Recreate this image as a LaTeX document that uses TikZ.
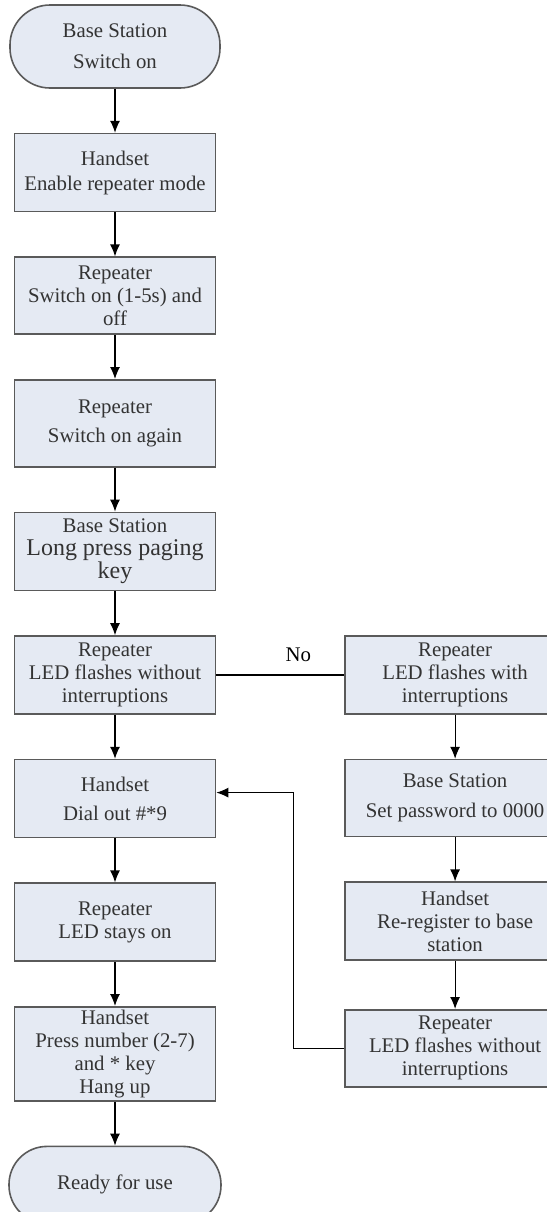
\documentclass[tikz,border=0pt]{standalone}
\usepackage{fontspec}
\setmainfont{Liberation Serif}
\usepackage{tikz}
\usetikzlibrary{arrows.meta}
\usetikzlibrary{positioning}
\definecolor{boxfill}{RGB}{229,234,243}
\definecolor{boxline}{RGB}{90,90,90}
\newcommand{\keyfont}{\fontsize{12}{13}\selectfont}

\begin{document}
\begin{tikzpicture}[
    font=\fontsize{10.4}{11.5}\selectfont,
    node distance=22pt,
    process/.style={rectangle, draw=boxline, line width=0.8pt, fill=boxfill, text=black!80,
      minimum width=100.5pt, minimum height=39pt, inner sep=1pt, align=center},
    terminal/.style={process, rounded corners=19pt, minimum width=105pt},
    side/.style={process, minimum width=110pt},
    flow/.style={-{Latex[length=6pt,width=5pt]}, line width=0.6pt}
  ]
    \useasboundingbox (0,0) rectangle (273.5pt,-606pt);

    % main column
    \node[terminal, minimum height=41.5pt, rounded corners=20pt] (start) at (57.5pt,-23.25pt) {Base Station\\[4pt]Switch on};
    \node[process, below=of start] (enable) {Handset\\[1pt]Enable repeater mode};
    \node[process, below=of enable, minimum height=38.5pt] (cycle) {Repeater\\Switch on (1-5s) and\\off};
    \node[process, below=of cycle, minimum height=43.5pt] (again) {Repeater\\[3pt]Switch on again};
    \node[process, below=of again] (paging) {Base Station\\\keyfont Long press paging\\\keyfont key};
    \node[process, below=of paging] (check) {Repeater\\LED flashes without\\interruptions};
    \node[process, below=of check] (dial) {Handset\\[3pt]Dial out \#*9};
    \node[process, below=of dial] (stays) {Repeater\\LED stays on};
    \node[process, below=of stays, minimum height=47pt] (press) {Handset\\Press number (2-7)\\and * key\\Hang up};
    \node[terminal, below=of press, minimum width=106pt, minimum height=38.5pt] (ready) {Ready for use};

    % side column
    \node[side, right=64pt of check] (flashing) {Repeater\\LED flashes with\\interruptions};
    \node[side, below=of flashing, minimum height=38.5pt] (password) {Base Station\\[3.5pt]Set password to 0000};
    \node[side, below=of password] (reregister) {Handset\\Re-register to base\\station};
    \node[side, below=24pt of reregister, minimum height=38.5pt] (steady) {Repeater\\LED flashes without\\interruptions};
    \coordinate (back) at ([xshift=38.75pt,yshift=3pt]dial.east);

    \draw[flow] (start) -- (enable);
    \draw[flow] (enable) -- (cycle);
    \draw[flow] (cycle) -- (again);
    \draw[flow] (again) -- (paging);
    \draw[flow] (paging) -- (check);
    \draw[flow] (check) -- (dial);
    \draw[flow] (dial) -- (stays);
    \draw[flow] (stays) -- (press);
    \draw[flow] (press) -- (ready);
    \draw[line width=0.9pt] (check) -- node[above=3pt, pos=0.64] {No} (flashing);
    \draw[flow] (flashing) -- (password);
    \draw[flow] (password) -- (reregister);
    \draw[flow] (reregister) -- (steady);
    \draw[flow] (steady.west) -| (back) -- (back -| dial.east);
\end{tikzpicture}
\end{document}
